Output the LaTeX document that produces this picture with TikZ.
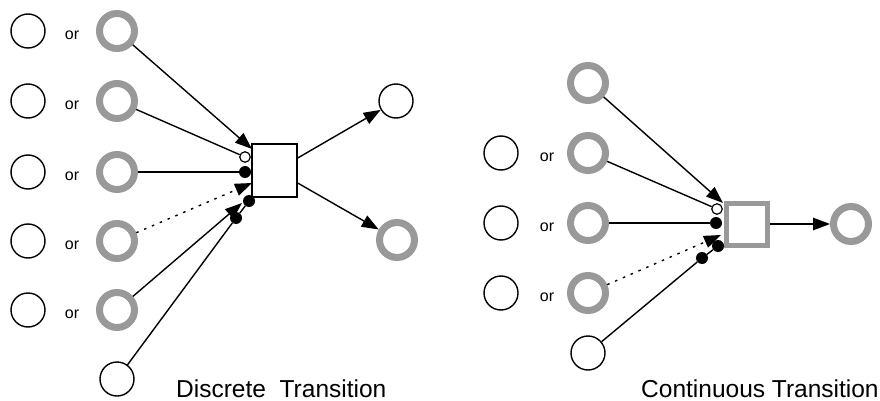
\documentclass[tikz,border=0pt]{standalone}
\usepackage{fontspec}
\setmainfont{Liberation Sans}
\usetikzlibrary{arrows.meta}
\definecolor{G}{RGB}{153,153,153}
\tikzset{
  place/.style={circle,draw,line width=1.4pt,minimum size=34pt,inner sep=0pt},
  gplace/.style={circle,draw=G,line width=7pt,minimum size=35pt,inner sep=0pt},
  trans/.style={rectangle,draw,line width=1.4pt,minimum width=45pt,minimum height=53pt,inner sep=0pt},
  ctrans/.style={rectangle,draw=G,line width=5pt,minimum width=41pt,minimum height=42pt,inner sep=0pt},
  dot/.style={circle,fill,inner sep=0pt,minimum size=12pt},
  odot/.style={circle,draw,fill=white,line width=1.2pt,minimum size=10.5pt,inner sep=0pt},
  arc/.style={line width=1.4pt},
  arr/.style={arc,-{Triangle[length=17pt,width=12.5pt]}},
  dotarc/.style={dash pattern=on 2.5pt off 6pt},
  ortext/.style={font=\fontsize{16}{18}\selectfont,inner sep=0pt},
  caption/.style={font=\fontsize{24.5}{28}\selectfont,anchor=base west,inner sep=0pt}
}
\begin{document}
\begin{tikzpicture}[x=1pt,y=-1pt]
\useasboundingbox (0,0) rectangle (880,401);
% discrete transition
\node[trans] (dt) at (274.5,170.5) {};
\foreach \y [count=\i] in {31,101,172,241,310}{
  \node[place] (b\i) at (28,\y) {};
  \node[ortext] (or\i) at (72,\y+4) {or};
  \node[gplace] (g\i) at (117,\y) {};
}
\node[place] (gb) at (117,379) {};
\node[place] (out1) at (396,101) {};
\node[gplace] (out2) at (397,240) {};
\coordinate (in1) at (252,149);
\coordinate (in4) at (252,183);
\coordinate (in5) at (242,203);
\draw[arr] (g1) -- (in1);
\draw[arr,dotarc] (g4) -- (in4);
\draw[arr] (g5) -- (in5);
\node[odot] (inh1) at (245,157) {};
\node[dot] (tst1) at (245,172) {};
\node[dot] (rd1) at (236,218) {};
\node[dot] (rd2) at (249,201) {};
\draw[arc] (g2) -- (inh1);
\draw[arc] (g3) -- (tst1);
\draw[arc] (gb) -- (rd1) -- (rd2);
\draw[arr] ([yshift=12.5]dt.east) -- (out1);
\draw[arr] ([yshift=-12.5]dt.east) -- (out2);
\node[caption] (dcap) at (176,397) {Discrete\ \ Transition};
% continuous transition
\node[ctrans] (ct) at (747,224) {};
\node[gplace] (h1) at (588,83) {};
\foreach \y [count=\i from 2] in {153,223,293}{
  \node[place] (c\i) at (501,\y) {};
  \node[ortext] (cor\i) at (547,\y+4) {or};
  \node[gplace] (h\i) at (588,\y) {};
}
\node[place] (hb) at (588,353) {};
\node[gplace] (out3) at (851,224) {};
\coordinate (jn1) at (723,203);
\coordinate (jn4) at (721,235);
\draw[arr] (h1) -- (jn1);
\draw[arr,dotarc] (h4) -- (jn4);
\node[odot] (inh2) at (717,209) {};
\node[dot] (tst2) at (716,223) {};
\node[dot] (rd3) at (702,258) {};
\node[dot] (rd4) at (718,246) {};
\draw[arc] (h2) -- (inh2);
\draw[arc] (h3) -- (tst2);
\draw[arc] (hb) -- (rd3) -- (rd4);
\draw[arr] (ct) -- (out3);
\node[caption] (ccap) at (641,397) {Continuous Transition};
\end{tikzpicture}
\end{document}
